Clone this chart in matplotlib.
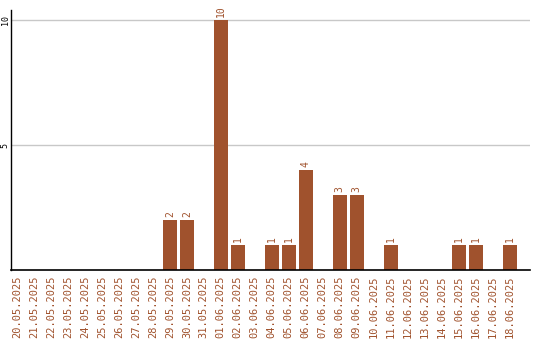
import matplotlib
matplotlib.use("Agg")
import matplotlib.pyplot as plt

dates = ["20.05.2025","21.05.2025","22.05.2025","23.05.2025","24.05.2025","25.05.2025",
         "26.05.2025","27.05.2025","28.05.2025","29.05.2025","30.05.2025","31.05.2025",
         "01.06.2025","02.06.2025","03.06.2025","04.06.2025","05.06.2025","06.06.2025",
         "07.06.2025","08.06.2025","09.06.2025","10.06.2025","11.06.2025","12.06.2025",
         "13.06.2025","14.06.2025","15.06.2025","16.06.2025","17.06.2025","18.06.2025"]
values = [0,0,0,0,0,0,0,0,0,2,2,0,10,1,0,1,1,4,0,3,3,0,1,0,0,0,1,1,0,1]
yticks = [5, 10]

color = "#A0522D"
fig = plt.figure(figsize=(5.4, 3.4), dpi=100)
ax = fig.add_axes([11/540, 1-270/340, (530-11)/540, 260/340])
x = list(range(len(dates)))
bars = ax.bar(x, values, width=0.82, color=color, zorder=2)
for xi, v in zip(x, values):
    if v > 0:
        ax.text(xi, v + 0.12, str(v), rotation=90, ha="center", va="bottom",
                color=color, fontsize=7, family="DejaVu Sans Mono")
ax.set_xlim(-0.35, 30.2)
ax.set_ylim(0, 10.4)
ax.set_yticks(yticks)
ax.set_yticklabels([str(t) for t in yticks], rotation=90, va="center",
                   fontsize=6, family="DejaVu Sans Mono")
ax.yaxis.grid(True, color="#c8c8c8", linewidth=1, zorder=0)
ax.set_axisbelow(True)
ax.set_xticks(x)
ax.set_xticklabels(dates, rotation=90, fontsize=7.5, color=color, family="DejaVu Sans Mono")
ax.tick_params(axis="both", length=0, pad=4)
ax.tick_params(axis="y", pad=1)
for s in ["top", "right"]:
    ax.spines[s].set_visible(False)
ax.spines["left"].set_color("black")
ax.spines["bottom"].set_color("black")
ax.spines["left"].set_linewidth(1)
ax.spines["bottom"].set_linewidth(1.2)
fig.savefig("out.png", dpi=100)
